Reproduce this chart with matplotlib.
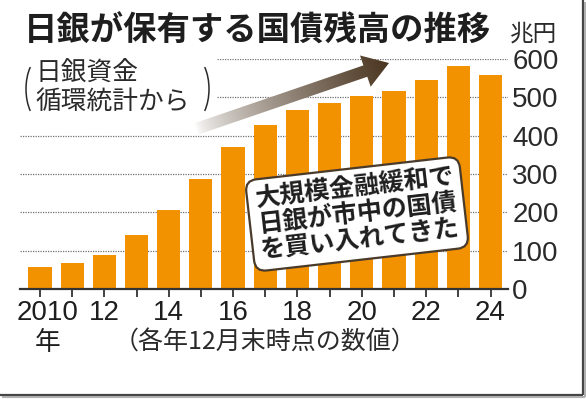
import numpy as np
import matplotlib
matplotlib.use("Agg")
import matplotlib.pyplot as plt
from matplotlib.patches import FancyArrow, Arc

# data (trillion yen, end of December)
years = list(range(2010, 2025))
holdings = [57, 67, 90, 142, 207, 288, 371, 428, 467, 485, 504, 517, 546, 581, 558]
ytick_vals = [0, 100, 200, 300, 400, 500, 600]
xlabel_years = [2010, 2012, 2014, 2016, 2018, 2020, 2022, 2024]
xlabel_text = ["2010", "12", "14", "16", "18", "20", "22", "24"]

title = "日銀が保有する国債残高の推移"
unit = "兆円"
note_lines = ["日銀資金", "循環統計から"]
box_text = "大規模金融緩和で\n日銀が市中の国債\nを買い入れてきた"
caption = "（各年12月末時点の数値）"

CJK = "Noto Sans CJK JP"
NUM = ["Liberation Sans Narrow", "Liberation Sans", CJK]
ORANGE = "#f39200"
INK = "#1e1e1e"
BROWN = np.array([0x4a, 0x35, 0x20]) / 255.0

W, H = 586, 399
fig = plt.figure(figsize=(W / 100, H / 100), dpi=100)
fig.patch.set_facecolor("white")

# main bar axes, pixel placement
x_left, x_right, y_zero, y_top = 20, 508, 289, 59
ax = fig.add_axes([x_left / W, (H - y_zero) / H, (x_right - x_left) / W, (y_zero - y_top) / H])
step = 32.18
ax.set_xlim(2010 - (40 - x_left) / step, 2024 + (x_right - 490.5) / step)
ax.set_ylim(0, 600)

ax.bar(years, holdings, width=0.72, color=ORANGE, zorder=2)

# dotted gridlines; the two upper ones stop short of the note text
for v in ytick_vals[1:]:
    start = (217 - x_left) / (x_right - x_left) if v >= 500 else 0
    ax.hlines(v, start, 1, transform=ax.get_yaxis_transform(), colors="#707070",
              linestyles=(0, (1, 1)), linewidth=0.9, zorder=1)

for s in ["top", "left", "right"]:
    ax.spines[s].set_visible(False)
ax.spines["bottom"].set_color("#333333")
ax.spines["bottom"].set_linewidth(1.6)
ax.spines["bottom"].set_zorder(3)

ax.yaxis.tick_right()
ax.set_yticks(ytick_vals)
ax.set_yticklabels([str(v) for v in ytick_vals], fontfamily=["Liberation Sans"], fontsize=20, color="#2a2a2a")
ax.tick_params(axis="y", length=0, pad=3)

ax.set_xticks(years)
ax.set_xticklabels([])
ax.tick_params(axis="x", direction="out", length=6, width=1.3, color="#333333")

tr = ax.get_xaxis_transform()
for yr, lab in zip(xlabel_years, xlabel_text):
    xpos = yr + 0.25 if yr == 2010 else yr
    ax.text(xpos, -0.104, lab, transform=tr, ha="center", va="center",
            fontfamily=NUM, fontsize=20, color=INK)
ax.text(2010.25, -0.236, "年", transform=tr, ha="center", va="center",
        fontfamily=CJK, fontsize=18.5, color=INK)

# overlay in pixel coordinates for the annotations
ov = fig.add_axes([0, 0, 1, 1], zorder=5)
ov.set_xlim(0, W)
ov.set_ylim(H, 0)
ov.axis("off")
ov.patch.set_alpha(0)

ov.text(24, 31, title, ha="left", va="center", fontfamily=CJK, fontsize=24,
        fontweight="bold", color=INK)
ov.text(534, 34, unit, ha="center", va="center", fontfamily=CJK, fontsize=17, color="#2a2a2a")

ov.text(35, 74, note_lines[0], ha="left", va="center", fontfamily=CJK, fontsize=18.5, color="#2a2a2a")
ov.text(35, 103, note_lines[1], ha="left", va="center", fontfamily=CJK, fontsize=18.5, color="#2a2a2a")
ov.add_patch(Arc((42, 89), 32, 64, theta1=118, theta2=242, color="#2a2a2a", lw=1.1))
ov.add_patch(Arc((193, 89), 32, 64, theta1=-62, theta2=62, color="#2a2a2a", lw=1.1))

ov.text(265, 343, caption, ha="center", va="center", fontfamily=CJK, fontsize=18, color="#2a2a2a")

# gradient arrow
tail = np.array([196.0, 129.0])
tip = np.array([389.0, 63.0])
d = tip - tail
arrow = FancyArrow(tail[0], tail[1], d[0], d[1], width=12, head_width=33, head_length=25,
                   length_includes_head=True, facecolor="none", edgecolor="none")
ov.add_patch(arrow)
gx0, gx1, gy0, gy1 = 180, 400, 40, 150
gx, gy = np.meshgrid(np.linspace(gx0, gx1, 440), np.linspace(gy0, gy1, 220))
L = np.hypot(*d)
t = ((gx - tail[0]) * d[0] + (gy - tail[1]) * d[1]) / L ** 2
t = np.clip(t, 0, 1) ** 0.7
img = np.ones(gx.shape + (4,))
for c in range(3):
    img[..., c] = 1 - t * (1 - BROWN[c])
im = ov.imshow(img, origin="lower", extent=(gx0, gx1, gy0, gy1), aspect="auto",
               interpolation="bilinear", zorder=3)
im.set_clip_path(arrow)
ov.set_xlim(0, W)
ov.set_ylim(H, 0)

# rotated callout box
ov.text(357, 214, box_text, ha="center", va="center", rotation=6.5, rotation_mode="anchor",
        fontfamily=CJK, fontsize=18, fontweight="bold", color=INK, linespacing=1.12,
        bbox=dict(boxstyle="round,pad=0.3,rounding_size=0.45", facecolor="white",
                  edgecolor="#4a3a2a", linewidth=1.6), zorder=4)

# frame shadow on right and bottom
ov.plot([583, 583], [0, 395], color="#444444", lw=1.6, solid_capstyle="butt")
ov.plot([0, 583], [395, 395], color="#444444", lw=1.6, solid_capstyle="butt")
ov.plot([585, 585], [2, 397], color="#b0b0b0", lw=1.5, solid_capstyle="butt")
ov.plot([2, 585], [397, 397], color="#b0b0b0", lw=1.5, solid_capstyle="butt")

fig.savefig("out.png", dpi=100)
